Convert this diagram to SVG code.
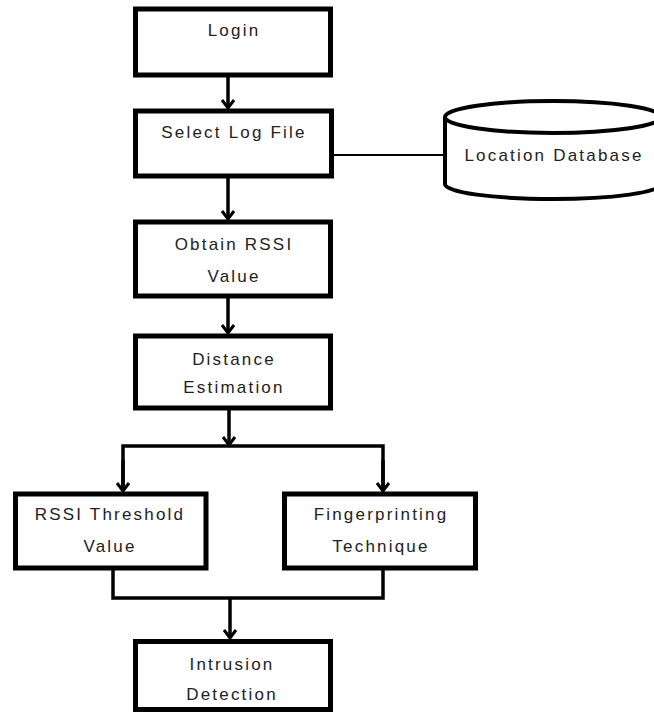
<svg xmlns="http://www.w3.org/2000/svg" width="654" height="713" viewBox="0 0 654 713">
  <defs>
    <marker id="arr" markerUnits="userSpaceOnUse" markerWidth="20" markerHeight="20" viewBox="-10 -10 20 20" refX="0" refY="0" orient="auto" overflow="visible">
      <path d="M-8,-6 L0,0 L-8,6" fill="none" stroke="#000" stroke-width="3"/>
    </marker>
  </defs>
  <style>
    .box { fill: #fff; stroke: #000; stroke-width: 5; }
    .db { fill: #fff; stroke: #000; stroke-width: 4; }
    .lbl { font-family: "Liberation Sans", Arial, sans-serif; font-size: 17px; letter-spacing: 2.2px; fill: #222; text-anchor: middle; }
    .con { fill: none; stroke: #000; stroke-width: 3.5; }
    .thin { fill: none; stroke: #000; stroke-width: 2; }
  </style>
  <rect width="654" height="713" fill="#fff"/>

  <g id="connectors">
    <line class="con" x1="228" y1="77" x2="228" y2="108" marker-end="url(#arr)"/>
    <line class="thin" x1="333" y1="155" x2="445" y2="155"/>
    <line class="con" x1="228" y1="178" x2="228" y2="219" marker-end="url(#arr)"/>
    <line class="con" x1="228" y1="298" x2="228" y2="333" marker-end="url(#arr)"/>
    <line class="con" x1="229" y1="410" x2="229" y2="445" marker-end="url(#arr)"/>
    <polyline class="con" points="123,491 123,446 383,446 383,491" stroke-linejoin="miter"/>
    <line class="con" x1="123" y1="460" x2="123" y2="491" marker-end="url(#arr)"/>
    <line class="con" x1="383" y1="460" x2="383" y2="491" marker-end="url(#arr)"/>
    <polyline class="con" points="113,570 113,598 383,598 383,570"/>
    <line class="con" x1="230" y1="598" x2="230" y2="638" marker-end="url(#arr)"/>
  </g>

  <g id="login">
    <rect class="box" x="135.5" y="9" width="195" height="66"/>
    <text class="lbl" x="234" y="36">Login</text>
  </g>

  <g id="select-log-file">
    <rect class="box" x="135.5" y="111" width="196" height="65"/>
    <text class="lbl" x="234" y="138">Select Log File</text>
  </g>

  <g id="location-database">
    <path class="db" d="M445,117 L445,184 A108,15 0 0 0 661,184 L661,117"/>
    <ellipse class="db" cx="553" cy="117" rx="108" ry="16"/>
    <text class="lbl" x="554" y="161">Location Database</text>
  </g>

  <g id="obtain-rssi">
    <rect class="box" x="135.5" y="222" width="195" height="74"/>
    <text class="lbl" x="234" y="250">Obtain RSSI</text>
    <text class="lbl" x="234" y="282">Value</text>
  </g>

  <g id="distance-estimation">
    <rect class="box" x="135.5" y="336" width="195" height="72"/>
    <text class="lbl" x="234" y="365">Distance</text>
    <text class="lbl" x="234" y="393">Estimation</text>
  </g>

  <g id="rssi-threshold">
    <rect class="box" x="15.5" y="494" width="190.5" height="74"/>
    <text class="lbl" x="110" y="520">RSSI Threshold</text>
    <text class="lbl" x="110" y="552">Value</text>
  </g>

  <g id="fingerprinting">
    <rect class="box" x="284.5" y="494" width="191" height="74"/>
    <text class="lbl" x="381" y="520">Fingerprinting</text>
    <text class="lbl" x="381" y="552">Technique</text>
  </g>

  <g id="intrusion-detection">
    <rect class="box" x="135.5" y="641.5" width="195" height="68"/>
    <text class="lbl" x="232" y="670">Intrusion</text>
    <text class="lbl" x="232" y="700">Detection</text>
  </g>
</svg>
